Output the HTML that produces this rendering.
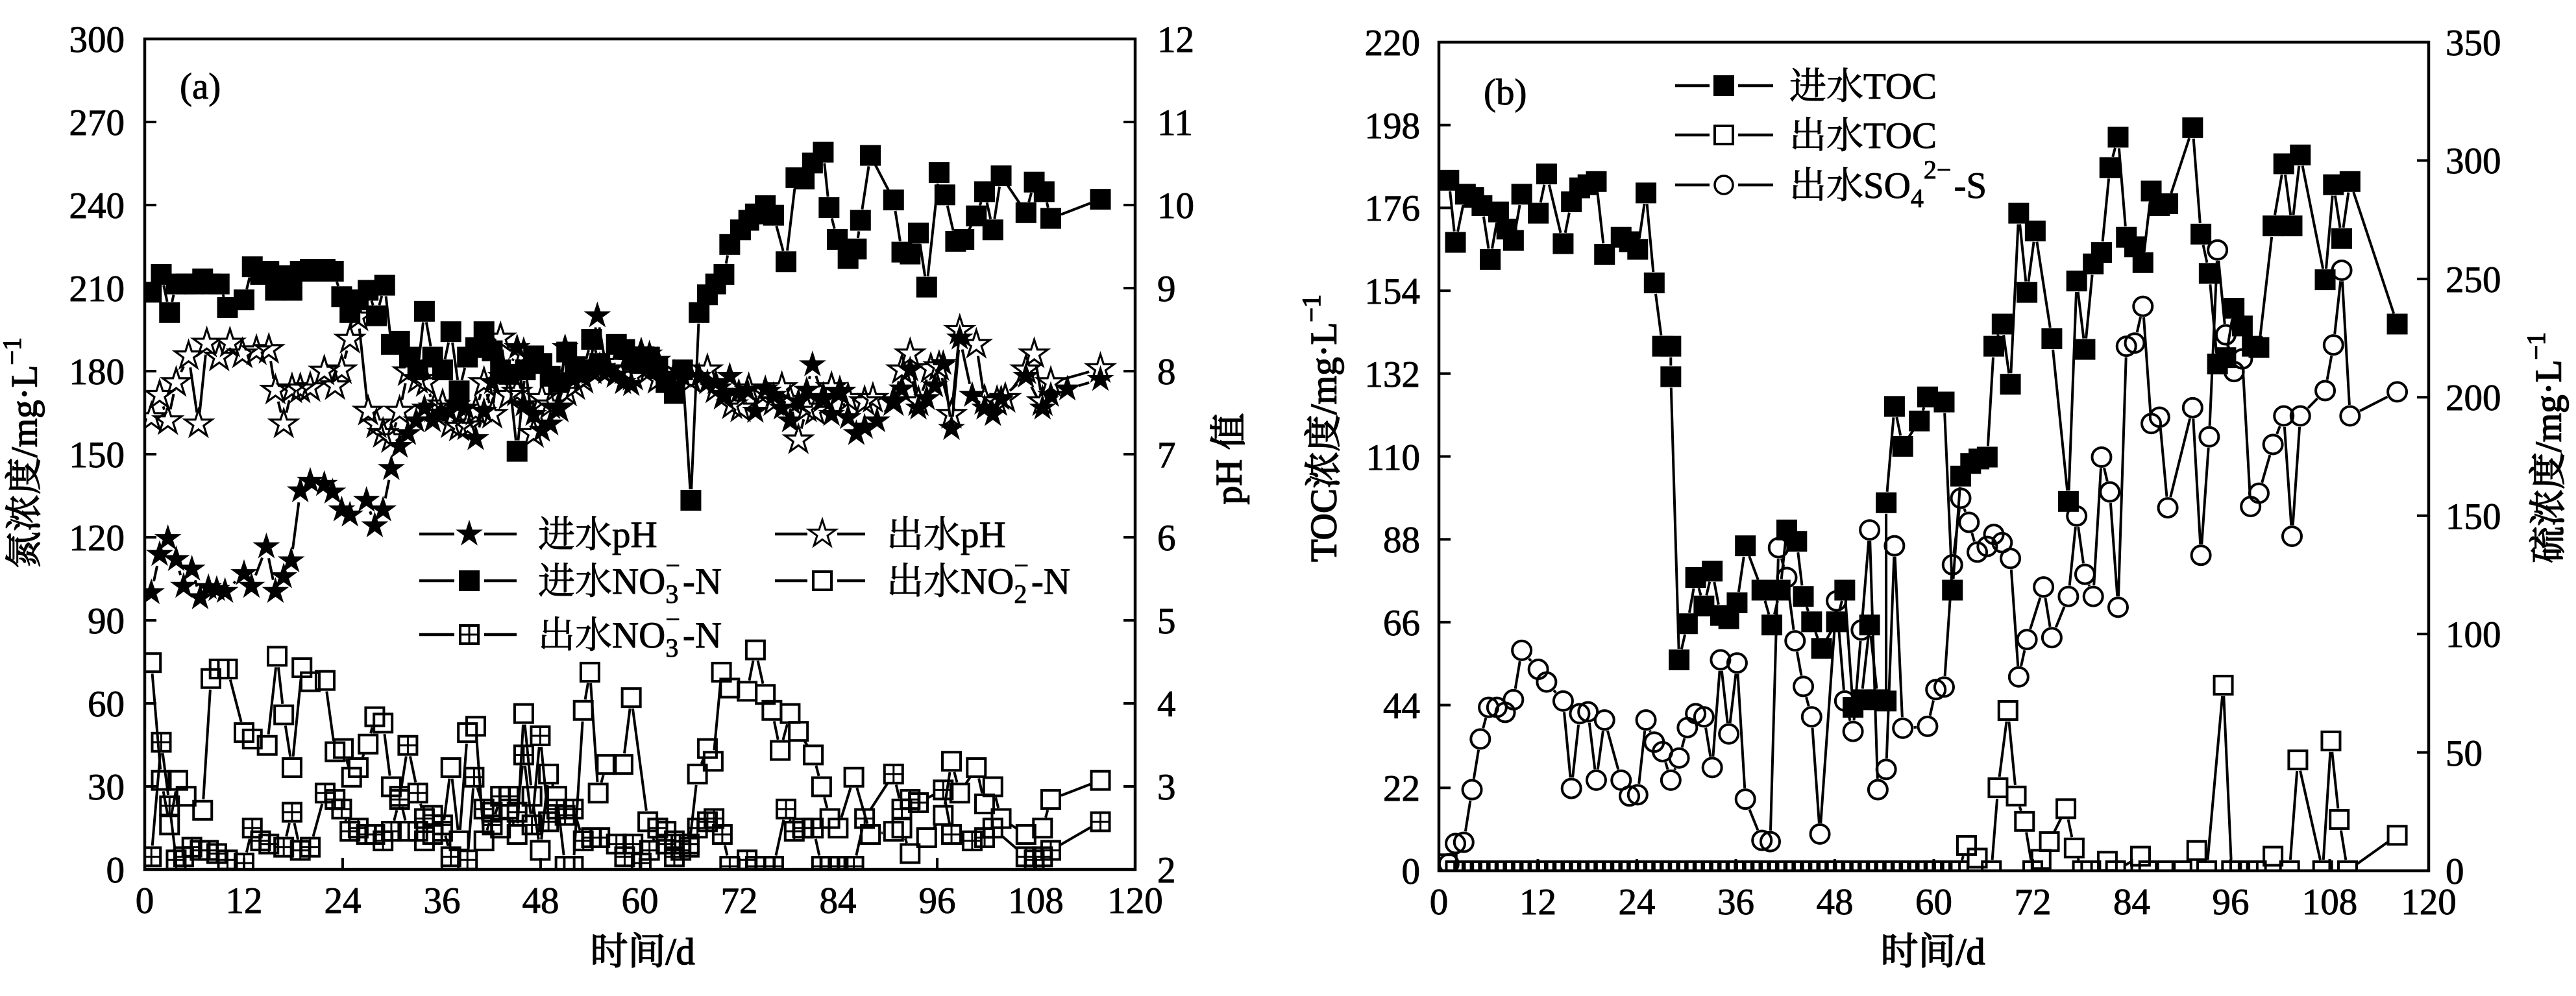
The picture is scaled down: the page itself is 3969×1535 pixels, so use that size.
<!DOCTYPE html>
<html><head><meta charset="utf-8"><style>
html,body{margin:0;padding:0;background:#fff;}
body{width:3969px;height:1535px;overflow:hidden;}
svg{display:block;}
text{font-family:"Liberation Serif","Noto Serif CJK SC",serif;fill:#000;stroke:#000;stroke-width:0.9px;}
</style></head><body>
<svg id="s" xmlns="http://www.w3.org/2000/svg" width="3969" height="1535" viewBox="0 0 3969 1535">
<defs>
<polygon id="star" points="0,-22 4.9,-6.8 20.9,-6.8 8,2.6 12.9,17.8 0,8.4 -12.9,17.8 -8,2.6 -20.9,-6.8 -4.9,-6.8"/>
<clipPath id="ca"><rect x="223" y="60" width="1526" height="1280"/></clipPath>
<clipPath id="cb"><rect x="2217" y="65" width="1525" height="1277"/></clipPath>
</defs>
<rect x="0" y="0" width="3969" height="1535" fill="#fff"/>
<g id="dataA" clip-path="url(#ca)"></g>
<g id="dataB" clip-path="url(#cb)"></g>

<!-- Chart A axes -->
<rect x="223" y="60" width="1526" height="1280" fill="none" stroke="#000" stroke-width="4.5"/>
<path stroke="#000" stroke-width="4" fill="none" d="M223 188h18M223 316h18M223 444h18M223 572h18M223 700h18M223 828h18M223 956h18M223 1084h18M223 1212h18
M1749 188h-18M1749 316h-18M1749 444h-18M1749 572h-18M1749 700h-18M1749 828h-18M1749 956h-18M1749 1084h-18M1749 1212h-18
M376 1340v-18M528 1340v-18M681 1340v-18M833 1340v-18M986 1340v-18M1139 1340v-18M1291 1340v-18M1444 1340v-18M1596 1340v-18"/>
<g font-size="57" text-anchor="end">
<text x="192" y="80">300</text><text x="192" y="208">270</text><text x="192" y="336">240</text><text x="192" y="464">210</text><text x="192" y="592">180</text><text x="192" y="720">150</text><text x="192" y="848">120</text><text x="192" y="976">90</text><text x="192" y="1104">60</text><text x="192" y="1232">30</text><text x="192" y="1360">0</text>
</g>
<g font-size="57" text-anchor="start">
<text x="1783" y="80">12</text><text x="1783" y="208">11</text><text x="1783" y="336">10</text><text x="1783" y="464">9</text><text x="1783" y="592">8</text><text x="1783" y="720">7</text><text x="1783" y="848">6</text><text x="1783" y="976">5</text><text x="1783" y="1104">4</text><text x="1783" y="1232">3</text><text x="1783" y="1360">2</text>
</g>
<g font-size="57" text-anchor="middle">
<text x="223" y="1407">0</text><text x="376" y="1407">12</text><text x="528" y="1407">24</text><text x="681" y="1407">36</text><text x="833" y="1407">48</text><text x="986" y="1407">60</text><text x="1139" y="1407">72</text><text x="1291" y="1407">84</text><text x="1444" y="1407">96</text><text x="1596" y="1407">108</text><text x="1749" y="1407">120</text>
</g>
<text x="277" y="152" font-size="57">(a)</text>
<text x="990" y="1486" font-size="58" text-anchor="middle" style="stroke-width:1.6px">时间/d</text>
<text transform="translate(38,698) rotate(-90)" font-size="57" text-anchor="middle" dominant-baseline="central" style="stroke-width:1.4px">氮浓度/mg·L<tspan dy="-20" font-size="40">−1</tspan></text>
<text transform="translate(1894,707) rotate(-90)" font-size="57" text-anchor="middle" dominant-baseline="central" style="stroke-width:1.6px">pH 值</text>

<!-- Legend A -->
<g stroke="#000" stroke-width="4.5" fill="none">
<path d="M646 823H700M746 823H796M646 895H700M746 895H796M646 978H700M746 978H796M1194 823H1244M1290 823H1333M1194 895H1244M1290 895H1333"/>
</g>
<use href="#star" x="723" y="823" fill="#000"/>
<rect x="707" y="879" width="32" height="32" fill="#000"/>
<rect x="709" y="964" width="28" height="28" fill="none" stroke="#000" stroke-width="4"/>
<path d="M709 978H737M723 964V992" stroke="#000" stroke-width="3"/>
<use href="#star" x="1267" y="823" fill="none" stroke="#000" stroke-width="3"/>
<rect x="1253" y="881" width="28" height="28" fill="none" stroke="#000" stroke-width="4"/>
<g font-size="57">
<text x="829" y="843">进水pH</text>
<text x="829" y="915">进水NO<tspan dy="14" font-size="40">3</tspan><tspan dx="-20" dy="-44" font-size="40">−</tspan><tspan dy="30" dx="4">-N</tspan></text>
<text x="829" y="998">出水NO<tspan dy="14" font-size="40">3</tspan><tspan dx="-20" dy="-44" font-size="40">−</tspan><tspan dy="30" dx="4">-N</tspan></text>
<text x="1366" y="843">出水pH</text>
<text x="1366" y="915">出水NO<tspan dy="14" font-size="40">2</tspan><tspan dx="-20" dy="-44" font-size="40">−</tspan><tspan dy="30" dx="4">-N</tspan></text>
</g>

<!-- Chart B axes -->
<rect x="2217" y="65" width="1525" height="1277" fill="none" stroke="#000" stroke-width="4.5"/>
<path stroke="#000" stroke-width="4" fill="none" d="M2217 192.7h18M2217 320.4h18M2217 448.1h18M2217 575.8h18M2217 703.5h18M2217 831.2h18M2217 958.9h18M2217 1086.6h18M2217 1214.3h18
M3742 247.4h-18M3742 429.9h-18M3742 612.3h-18M3742 794.7h-18M3742 977.1h-18M3742 1159.6h-18
M2369.5 1342v-18M2522 1342v-18M2674.5 1342v-18M2827 1342v-18M2979.5 1342v-18M3132 1342v-18M3284.5 1342v-18M3437 1342v-18M3589.5 1342v-18"/>
<g font-size="57" text-anchor="end">
<text x="2188" y="85">220</text><text x="2188" y="213">198</text><text x="2188" y="340">176</text><text x="2188" y="468">154</text><text x="2188" y="596">132</text><text x="2188" y="724">110</text><text x="2188" y="851">88</text><text x="2188" y="979">66</text><text x="2188" y="1107">44</text><text x="2188" y="1234">22</text><text x="2188" y="1362">0</text>
</g>
<g font-size="57" text-anchor="start">
<text x="3768" y="85">350</text><text x="3768" y="267">300</text><text x="3768" y="450">250</text><text x="3768" y="632">200</text><text x="3768" y="815">150</text><text x="3768" y="997">100</text><text x="3768" y="1180">50</text><text x="3768" y="1362">0</text>
</g>
<g font-size="57" text-anchor="middle">
<text x="2217" y="1409">0</text><text x="2369.5" y="1409">12</text><text x="2522" y="1409">24</text><text x="2674.5" y="1409">36</text><text x="2827" y="1409">48</text><text x="2979.5" y="1409">60</text><text x="3132" y="1409">72</text><text x="3284.5" y="1409">84</text><text x="3437" y="1409">96</text><text x="3589.5" y="1409">108</text><text x="3742" y="1409">120</text>
</g>
<text x="2286" y="161" font-size="57">(b)</text>
<text x="2978" y="1486" font-size="58" text-anchor="middle" style="stroke-width:1.6px">时间/d</text>
<text transform="translate(2040,660) rotate(-90)" font-size="57" text-anchor="middle" dominant-baseline="central" style="stroke-width:1.6px">TOC浓度/mg·L<tspan dy="-20" font-size="40">−1</tspan></text>
<text transform="translate(3927,690) rotate(-90)" font-size="57" text-anchor="middle" dominant-baseline="central" style="stroke-width:1.6px">硫浓度/mg·L<tspan dy="-20" font-size="40">−1</tspan></text>

<!-- Legend B -->
<path stroke="#000" stroke-width="4.5" fill="none" d="M2581 132H2634M2678 132H2732M2581 208H2634M2678 208H2732M2581 285H2634M2678 285H2732"/>
<rect x="2640" y="116" width="32" height="32" fill="#000"/>
<rect x="2642" y="194" width="28" height="28" fill="none" stroke="#000" stroke-width="4"/>
<circle cx="2656" cy="285" r="14" fill="none" stroke="#000" stroke-width="3.5"/>
<g font-size="57">
<text x="2757" y="152">进水TOC</text>
<text x="2757" y="228">出水TOC</text>
<text x="2757" y="305">出水SO<tspan dy="14" font-size="40">4</tspan><tspan dy="-44" font-size="40">2−</tspan><tspan dy="30" dx="4">-S</tspan></text>
</g>
</svg>
<script>
(function(){
var NS='http://www.w3.org/2000/svg';
function mk(t,a,p){var e=document.createElementNS(NS,t);for(var k in a)e.setAttribute(k,a[k]);p.appendChild(e);return e;}
function pairs(a){var r=[];for(var i=0;i<a.length;i+=2)r.push([a[i],a[i+1]]);return r;}
function marker(g,t,x,y){
 if(t=='fs')mk('rect',{x:x-16,y:y-16,width:32,height:32,fill:'#000'},g);
 else if(t=='os')mk('rect',{x:x-14,y:y-14,width:28,height:28,fill:'none',stroke:'#000','stroke-width':4},g);
 else if(t=='xs'){mk('rect',{x:x-14,y:y-14,width:28,height:28,fill:'none',stroke:'#000','stroke-width':4},g);
   mk('path',{d:'M'+(x-14)+' '+y+'H'+(x+14)+'M'+x+' '+(y-14)+'V'+(y+14),stroke:'#000','stroke-width':3},g);}
 else if(t=='oc')mk('circle',{cx:x,cy:y,r:14.5,fill:'none',stroke:'#000','stroke-width':4},g);
 else if(t=='fst')mk('use',{href:'#star',x:x,y:y,fill:'#000'},g);
 else if(t=='ost')mk('use',{href:'#star',x:x,y:y,fill:'none',stroke:'#000','stroke-width':3.2},g);
}
function series(g,P,t,gap){
 var d='';
 for(var i=0;i<P.length-1;i++){var x1=P[i][0],y1=P[i][1],x2=P[i+1][0],y2=P[i+1][1];var dx=x2-x1,dy=y2-y1,L=Math.sqrt(dx*dx+dy*dy);if(L<=2*gap+2)continue;var ux=dx/L,uy=dy/L;
  d+='M'+(x1+ux*gap).toFixed(1)+' '+(y1+uy*gap).toFixed(1)+'L'+(x2-ux*gap).toFixed(1)+' '+(y2-uy*gap).toFixed(1);}
 mk('path',{d:d,stroke:'#000','stroke-width':4,fill:'none'},g);
 for(var j=0;j<P.length;j++)marker(g,t,P[j][0],P[j][1]);
}
function mapA(a){return pairs(a).map(function(p){return [223+(p[0]-175)*1.2749,60+(p[1]-60)*0.98084];});}
function mapB(a){return pairs(a).map(function(p){return [2217+(p[0]-193)*1.2762,65+(p[1]-60)*0.9763];});}

var gA=document.getElementById('dataA'),gB=document.getElementById('dataB');

var inPH=[183,930,193,870,203,845,213,878,222,920,232,893,242,938,252,922,262,925,272,928,295,900,304,920,322,858,333,928,343,905,352,880,363,770,375,755,392,760,402,772,413,800,423,808,443,785,453,825,463,800,473,735,483,700,493,680,503,660,513,640,523,660,533,648,543,645,553,635,563,640,575,688,585,645,595,600,605,590,615,583,625,545,633,635,645,650,655,675,665,665,675,640,683,545,693,595,703,590,713,578,722,495,733,580,743,590,753,600,763,603,775,550,785,555,795,565,825,590,845,590,855,600,865,600,875,620,882,590,893,615,903,612,913,645,925,610,935,620,945,640,955,660,965,630,975,612,982,572,995,625,1005,650,1015,615,1025,655,1035,680,1045,670,1060,660,1080,630,1090,610,1100,580,1110,640,1120,625,1130,605,1140,570,1150,672,1160,530,1175,620,1190,640,1200,650,1210,625,1240,590,1260,640,1270,620,1290,610,1330,595];
var outPH=[183,655,193,620,203,660,213,600,228,558,240,665,250,538,265,560,278,538,293,555,310,550,325,548,333,612,343,665,353,610,363,610,375,608,392,582,405,605,413,580,423,532,433,497,445,645,455,665,463,680,473,688,483,645,493,583,505,595,515,600,525,640,535,635,545,665,555,670,565,668,575,645,585,600,595,650,605,530,615,620,625,615,633,555,645,680,655,625,665,635,675,640,685,615,695,605,705,595,715,580,725,578,735,580,745,570,755,580,765,590,785,580,795,595,815,590,835,595,855,580,865,610,875,620,885,635,895,640,905,610,925,615,935,630,945,608,955,628,965,690,975,640,985,645,995,625,1005,608,1015,615,1025,625,1045,630,1055,625,1080,630,1090,580,1100,555,1110,630,1125,578,1135,575,1150,650,1160,518,1180,540,1190,628,1205,630,1215,625,1240,580,1250,555,1260,630,1270,600,1330,578];
var inNO3=[183,458,195,430,205,490,213,445,225,445,235,445,245,437,255,445,265,445,275,482,295,470,305,418,315,430,325,425,333,455,343,432,353,455,363,425,375,422,385,425,393,422,403,425,413,465,423,490,433,470,445,455,455,495,465,447,473,540,483,535,495,560,505,580,513,488,523,560,535,580,545,520,555,613,565,560,575,545,585,520,595,550,605,580,615,587,625,708,635,580,645,558,655,570,665,590,675,600,685,552,695,575,705,580,715,532,725,570,745,540,755,548,765,565,775,570,785,560,795,578,805,600,815,617,825,580,835,785,845,490,855,462,865,445,875,430,882,383,895,360,905,345,913,335,925,322,935,337,950,410,962,278,972,280,982,255,995,238,1002,325,1012,375,1025,405,1035,390,1040,345,1052,243,1080,313,1090,395,1100,398,1110,365,1120,450,1135,270,1142,305,1155,378,1165,375,1180,338,1190,300,1200,360,1210,275,1240,333,1250,285,1262,300,1270,342,1330,312];
var outNO2=[183,1040,195,1225,205,1295,215,1225,225,1250,245,1272,255,1065,265,1050,275,1050,295,1150,305,1160,323,1170,335,1030,343,1122,353,1205,365,1048,375,1070,393,1068,405,1180,415,1175,425,1220,433,1205,445,1168,453,1125,463,1135,473,1235,483,1250,493,1305,505,1305,513,1320,523,1310,535,1305,545,1205,555,1320,565,1150,575,1140,585,1320,595,1275,605,1300,615,1270,625,1310,633,1120,643,1250,653,1335,663,1215,673,1250,683,1360,693,1360,705,1115,713,1055,723,1245,733,1200,753,1200,763,1095,783,1290,795,1300,805,1305,815,1320,823,1325,833,1330,843,1215,855,1175,862,1195,872,1055,882,1080,903,1085,913,1020,925,1090,933,1115,943,1178,955,1120,965,1148,983,1185,993,1235,1003,1285,1013,1300,1032,1220,1052,1310,1080,1305,1090,1300,1100,1340,1120,1315,1140,1280,1150,1195,1160,1245,1180,1205,1190,1262,1200,1235,1210,1285,1240,1310,1260,1300,1270,1255,1330,1225];
var outNO3=[183,1345,195,1165,205,1265,213,1350,222,1345,232,1330,242,1335,252,1335,262,1340,275,1350,295,1355,305,1300,315,1320,325,1325,343,1330,353,1275,363,1335,375,1330,393,1245,405,1255,413,1270,423,1305,433,1300,443,1310,453,1310,463,1320,473,1305,483,1255,493,1170,505,1245,513,1285,523,1280,535,1295,545,1345,565,1350,573,1220,585,1270,595,1295,605,1250,615,1250,625,1275,633,1185,643,1295,653,1155,663,1290,673,1270,683,1280,693,1270,705,1320,715,1315,725,1315,745,1325,755,1345,765,1325,775,1355,785,1335,795,1300,805,1325,815,1345,823,1335,833,1325,843,1300,855,1290,863,1285,873,1310,882,1360,903,1350,913,1360,925,1360,935,1360,950,1270,960,1305,970,1300,983,1300,993,1360,1003,1360,1013,1360,1032,1360,1045,1285,1080,1215,1090,1270,1100,1255,1110,1260,1140,1240,1150,1310,1175,1320,1190,1315,1200,1300,1240,1345,1250,1350,1260,1345,1270,1335,1330,1290];

series(gA,mapA(outNO3),'xs',17);
series(gA,mapA(outNO2),'os',17);
series(gA,mapA(outPH),'ost',18);
series(gA,mapA(inNO3),'fs',17);
series(gA,mapA(inPH),'fst',18);

var inTOC=[205,278,213,376,225,300,235,305,245,318,255,403,265,328,275,355,283,373,293,300,313,330,323,268,343,378,353,312,363,290,373,285,383,280,393,395,413,368,423,375,433,387,443,298,453,440,463,540,473,540,473,588,483,1035,493,978,503,905,513,950,523,895,533,965,543,970,553,945,563,855,583,925,595,980,605,925,613,830,625,848,633,935,643,975,655,1017,673,975,683,925,693,1110,703,1098,713,980,723,1098,733,1100,733,787,743,635,753,698,773,658,783,620,803,628,813,925,823,745,835,725,845,718,855,715,863,540,873,505,883,600,893,330,903,455,913,358,933,528,953,785,963,437,973,545,983,410,993,392,1003,258,1013,210,1023,368,1033,383,1043,408,1053,295,1063,318,1073,315,1103,195,1113,363,1123,425,1133,568,1143,558,1153,480,1163,508,1175,540,1183,542,1200,350,1213,252,1223,350,1233,238,1263,435,1273,285,1283,370,1293,280,1350,505];
var outSO4=[205,1357,213,1325,223,1323,233,1240,243,1160,253,1110,263,1110,273,1118,283,1098,293,1020,313,1050,323,1070,343,1100,353,1238,363,1120,373,1117,383,1225,393,1130,413,1225,423,1250,433,1248,443,1130,453,1165,463,1180,473,1225,483,1190,493,1142,503,1120,513,1125,523,1205,533,1035,543,1152,553,1040,563,1255,583,1320,593,1322,603,858,613,905,623,1005,633,1077,643,1125,653,1310,673,942,683,1100,693,1148,703,988,713,830,723,1240,733,1208,743,855,753,1143,783,1140,793,1082,803,1078,813,885,823,780,833,818,843,865,855,856,863,837,873,850,883,875,893,1062,903,1003,923,920,933,1000,953,935,963,808,973,900,983,935,993,715,1003,770,1013,952,1023,540,1033,535,1043,477,1053,662,1063,652,1073,795,1103,637,1113,870,1123,683,1133,388,1143,522,1153,580,1163,560,1173,793,1183,772,1200,695,1213,650,1223,840,1233,650,1263,610,1273,538,1283,420,1293,650,1350,612];
var outTOC=[203,1357];
for(var d=1;d<=62;d++){outTOC.push(203+d*9.96,1368);}
outTOC=outTOC.concat([830,1328,843,1348,860,1368,868,1237,880,1115,890,1250,900,1290,910,1368,920,1350,930,1322,950,1270,960,1332,970,1368,980,1368,1000,1353,1010,1368,1040,1345,1050,1368,1070,1368,1090,1368,1108,1336,1120,1368,1140,1075,1150,1368,1160,1368,1170,1368,1180,1368,1200,1345,1220,1368,1230,1193,1260,1368,1270,1163,1280,1287,1290,1368,1350,1312]);

series(gB,mapB(outSO4),'oc',17);
series(gB,mapB(outTOC),'os',17);
series(gB,mapB(inTOC),'fs',17);
})();
</script>
</body></html>
